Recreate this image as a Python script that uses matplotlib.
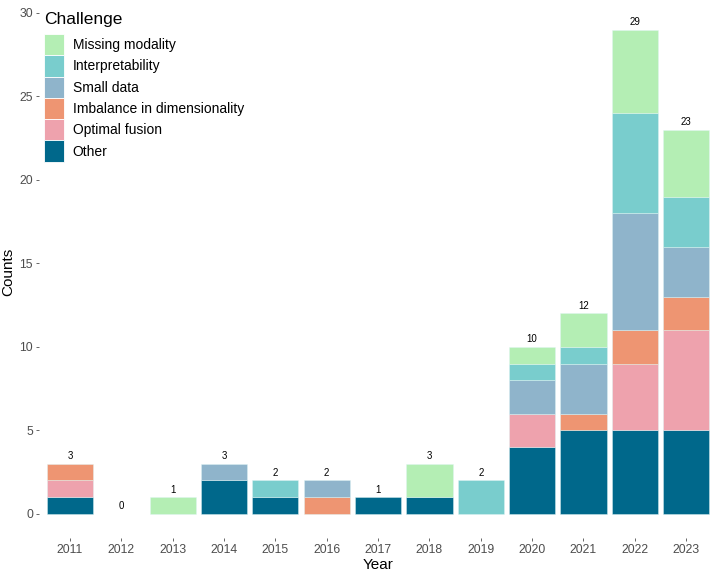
import matplotlib.pyplot as plt
import numpy as np
from matplotlib.patches import Patch

plt.rcParams['font.family'] = ['Liberation Sans', 'DejaVu Sans']

# Datos
years = [2011, 2012, 2013, 2014, 2015, 2016, 2017, 2018, 2019, 2020, 2021, 2022, 2023]
other = [1, 0, 0, 2, 1, 0, 1, 1, 0, 4, 5, 5, 5]
optimal_fusion = [1, 0, 0, 0, 0, 0, 0, 0, 0, 2, 0, 4, 6]
imbalance = [1, 0, 0, 0, 0, 1, 0, 0, 0, 0, 1, 2, 2]
small_data = [0, 0, 0, 1, 0, 1, 0, 0, 0, 2, 3, 7, 3]
interpretability = [0, 0, 0, 0, 1, 0, 0, 0, 2, 1, 1, 6, 3]
missing_modality = [0, 0, 1, 0, 0, 0, 0, 2, 0, 1, 2, 5, 4]

# Orden de apilado (de abajo hacia arriba)
series = [
    ("Other", other, "#00688b"),
    ("Optimal fusion", optimal_fusion, "#eea2ad"),
    ("Imbalance in dimensionality", imbalance, "#ee9572"),
    ("Small data", small_data, "#8fb4cb"),
    ("Interpretability", interpretability, "#79cdcd"),
    ("Missing modality", missing_modality, "#b4eeb4"),
]

fig = plt.figure(figsize=(7.2, 5.76), dpi=100)
ax = fig.add_axes([0.0544, 0.066, 0.9414, 0.9245])

x = np.arange(len(years))
bottom = np.zeros(len(years))
for name, vals, col in series:
    vals = np.array(vals, dtype=float)
    m = vals > 0
    ax.bar(x[m], vals[m], bottom=bottom[m], width=0.9, color=col,
           edgecolor=(0.88, 0.96, 0.96, 0.6), linewidth=0.5)
    bottom += vals

totals = bottom
for xi, t in zip(x, totals):
    ax.text(xi, t + 0.15, str(int(t)), ha='center', va='bottom', fontsize=7, color='black')

ax.set_xlim(-0.6, len(years) - 1 + 0.6)
ax.set_ylim(-1.45, 30.45)
ax.set_xticks(x)
ax.set_xticklabels([str(y) for y in years])
ax.set_yticks([0, 5, 10, 15, 20, 25, 30])
for s in ax.spines.values():
    s.set_visible(False)
ax.tick_params(axis='both', colors='#4d4d4d', labelsize=8.8, length=2.5, width=0.6, pad=2)
ax.tick_params(axis='x', pad=2)
ax.set_xlabel("Year", fontsize=11, labelpad=1)
ax.set_ylabel("Counts", fontsize=11, labelpad=3)

# Leyenda
handles = [Patch(facecolor=col, edgecolor='white', linewidth=0.6, label=name)
           for name, _, col in series[::-1]]
leg = ax.legend(handles=handles, title="Challenge", loc='upper left',
                bbox_to_anchor=(33 / 720, 1 - 1 / 576), bbox_transform=fig.transFigure,
                frameon=False, fontsize=10, title_fontsize=12.5,
                handlelength=1.45, handleheight=1.98, labelspacing=0.0,
                handletextpad=0.6, borderpad=0.3, alignment='left')
leg._legend_box.sep = 5

fig.savefig("out.png", dpi=100)
